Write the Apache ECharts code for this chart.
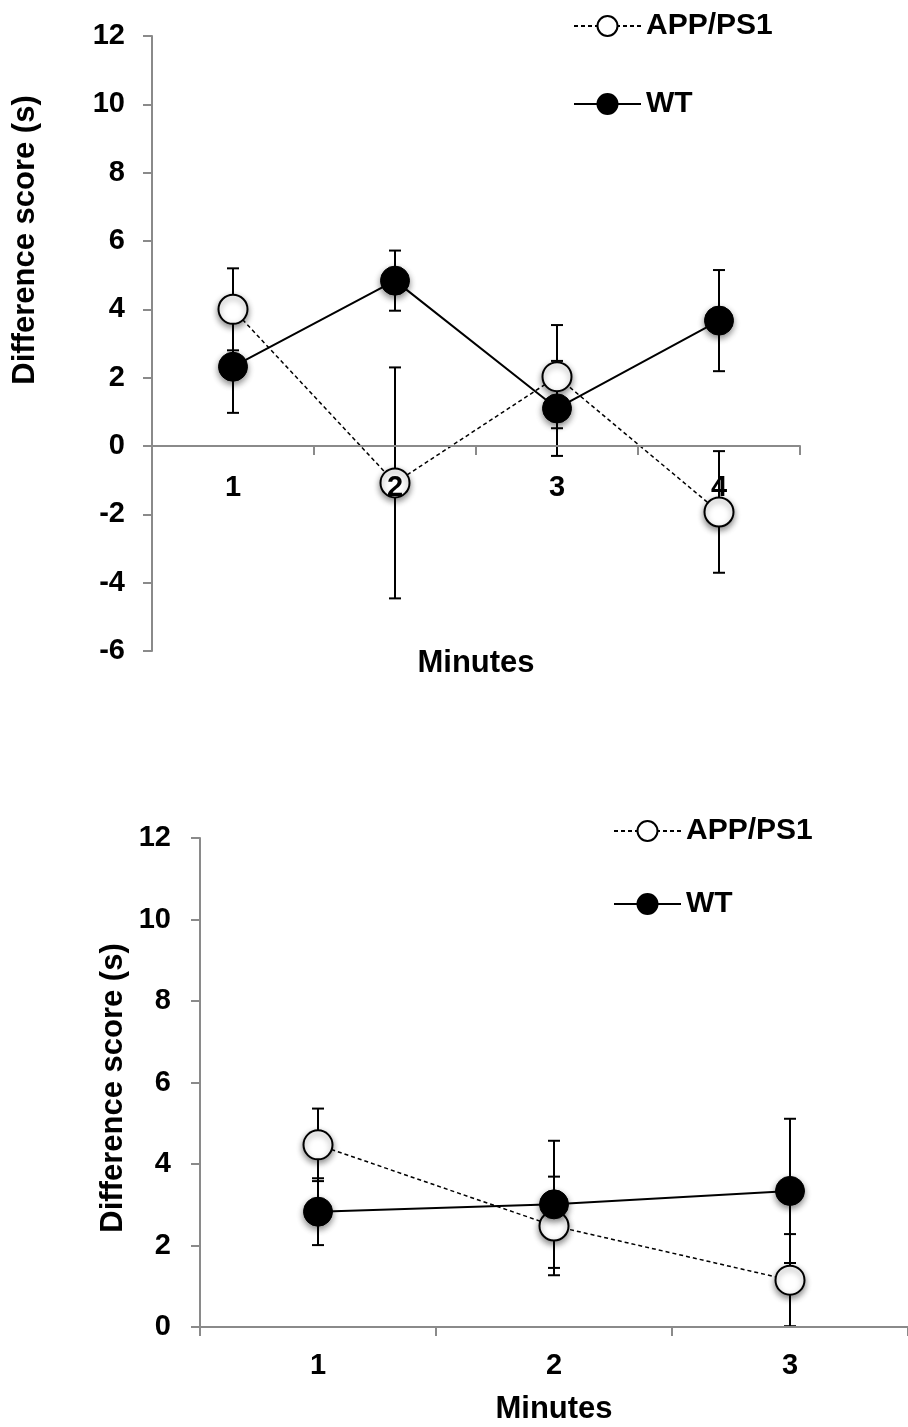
<!DOCTYPE html>
<html>
<head>
<meta charset="utf-8">
<script src="https://cdn.jsdelivr.net/npm/echarts@6/dist/echarts.min.js"></script>
<style>
  html, body { margin: 0; padding: 0; background: #fff; }
  #main { width: 908px; height: 1427px; }
</style>
</head>
<body>
<div id="main"></div>
<script>
// top panel: 4 minutes
var minutesTop = ['1', '2', '3', '4'];
var appTop = [4.0, -1.08, 2.03, -1.93];
var appTopErr = [1.2, 3.38, 1.51, 1.78];
var wtTop = [2.32, 4.84, 1.10, 3.67];
var wtTopErr = [1.35, 0.88, 1.39, 1.48];

// bottom panel: 3 minutes
var minutesBot = ['1', '2', '3'];
var appBot = [4.47, 2.48, 1.15];
var appBotErr = [0.89, 1.21, 1.13];
var wtBot = [2.83, 3.01, 3.34];
var wtBotErr = [0.82, 1.56, 1.77];

var FONT = '"Liberation Sans", Arial, sans-serif';
var AXIS_GRAY = '#8a8a8a';

function errData(mean, err) {
    return mean.map(function (m, i) { return [i, m - err[i], m + err[i]]; });
}

// vertical error bar with caps
function renderErr(params, api) {
    var lo = api.coord([api.value(0), api.value(1)]);
    var hi = api.coord([api.value(0), api.value(2)]);
    var w = 6;
    var st = { stroke: '#000', lineWidth: 2 };
    return {
        type: 'group',
        children: [
            { type: 'line', shape: { x1: lo[0], y1: lo[1], x2: hi[0], y2: hi[1] }, style: st },
            { type: 'line', shape: { x1: lo[0] - w, y1: lo[1], x2: lo[0] + w, y2: lo[1] }, style: st },
            { type: 'line', shape: { x1: hi[0] - w, y1: hi[1], x2: hi[0] + w, y2: hi[1] }, style: st }
        ]
    };
}

var labelStyle = { color: '#000', fontFamily: FONT, fontWeight: 'bold', fontSize: 29 };

// labels and name are laid out from the grid edge, so the top panel
// (axis line at y=0, mid-grid) needs negative offsets
function xAxisCfg(idx, data, labelMargin, gap) {
    return {
        type: 'category',
        gridIndex: idx,
        data: data,
        boundaryGap: true,
        z: 5,
        axisLine: { onZero: true, lineStyle: { color: AXIS_GRAY, width: 2 } },
        axisTick: { show: true, length: 9, lineStyle: { color: AXIS_GRAY, width: 2 } },
        axisLabel: Object.assign({ margin: labelMargin }, labelStyle),
        name: 'Minutes',
        nameLocation: 'middle',
        nameGap: gap,
        nameTextStyle: { color: '#000', fontFamily: FONT, fontWeight: 'bold', fontSize: 31 }
    };
}

function yAxisCfg(idx, min, max, margin) {
    return {
        type: 'value',
        gridIndex: idx,
        min: min,
        max: max,
        interval: 2,
        splitLine: { show: false },
        axisLine: { show: true, lineStyle: { color: AXIS_GRAY, width: 2 } },
        axisTick: { show: true, length: 9, lineStyle: { color: AXIS_GRAY, width: 2 } },
        axisLabel: Object.assign({ margin: margin }, labelStyle)
    };
}

var appItem = {
    color: '#fff', borderColor: '#000', borderWidth: 2,
    shadowBlur: 6, shadowColor: 'rgba(0,0,0,0.45)', shadowOffsetY: 3
};
var wtItem = {
    color: '#000', borderColor: '#000', borderWidth: 1,
    shadowBlur: 6, shadowColor: 'rgba(0,0,0,0.45)', shadowOffsetY: 3
};

function lineSeries(name, idx, data, dashed, item, z) {
    return {
        name: name,
        type: 'line',
        xAxisIndex: idx,
        yAxisIndex: idx,
        data: data,
        symbol: 'circle',
        symbolSize: 29,
        z: z,
        animation: false,
        lineStyle: dashed ? { color: '#000', width: 1.5, type: [4, 3] } : { color: '#000', width: 2 },
        itemStyle: item
    };
}

function errSeries(idx, mean, err) {
    return {
        type: 'custom',
        xAxisIndex: idx,
        yAxisIndex: idx,
        renderItem: renderErr,
        encode: { x: 0, y: [1, 2] },
        data: errData(mean, err),
        z: 1,
        animation: false,
        silent: true
    };
}

var legendText = { color: '#000', fontFamily: FONT, fontWeight: 'bold', fontSize: 30, lineHeight: 30 };

var myChart = echarts.init(document.getElementById('main'));
var option = {
    backgroundColor: '#fff',
    animation: false,
    grid: [
        { left: 152, top: 36, width: 648, height: 615 },
        { left: 200, top: 838, width: 717, height: 489 }
    ],
    legend: [
        {
            orient: 'vertical', left: 568, top: 6,
            itemWidth: 67, itemHeight: 25, itemGap: 48,
            textStyle: legendText,
            data: ['APP/PS1', 'WT']
        },
        {
            orient: 'vertical', left: 608, top: 811,
            itemWidth: 67, itemHeight: 25, itemGap: 43,
            textStyle: legendText,
            data: ['APP/PS1', 'WT']
        }
    ],
    xAxis: [xAxisCfg(0, minutesTop, -178, -3), xAxisCfg(1, minutesBot, 24, 67)],
    yAxis: [yAxisCfg(0, -6, 12, 27), yAxisCfg(1, 0, 12, 29)],
    graphic: [
        {
            type: 'text', x: 25, y: 240, rotation: Math.PI / 2,
            style: { text: 'Difference score (s)', font: 'bold 31px ' + FONT, fill: '#000', align: 'center', verticalAlign: 'middle' }
        },
        {
            type: 'text', x: 113, y: 1088, rotation: Math.PI / 2,
            style: { text: 'Difference score (s)', font: 'bold 31px ' + FONT, fill: '#000', align: 'center', verticalAlign: 'middle' }
        }
    ],
    series: [
        errSeries(0, appTop, appTopErr),
        errSeries(0, wtTop, wtTopErr),
        lineSeries('APP/PS1', 0, appTop, true, appItem, 2),
        lineSeries('WT', 0, wtTop, false, wtItem, 3),
        errSeries(1, appBot, appBotErr),
        errSeries(1, wtBot, wtBotErr),
        lineSeries('APP/PS1', 1, appBot, true, appItem, 2),
        lineSeries('WT', 1, wtBot, false, wtItem, 3)
    ]
};
myChart.setOption(option);
window.addEventListener('resize', function () {
    myChart.resize();
});
</script>
</body>
</html>
